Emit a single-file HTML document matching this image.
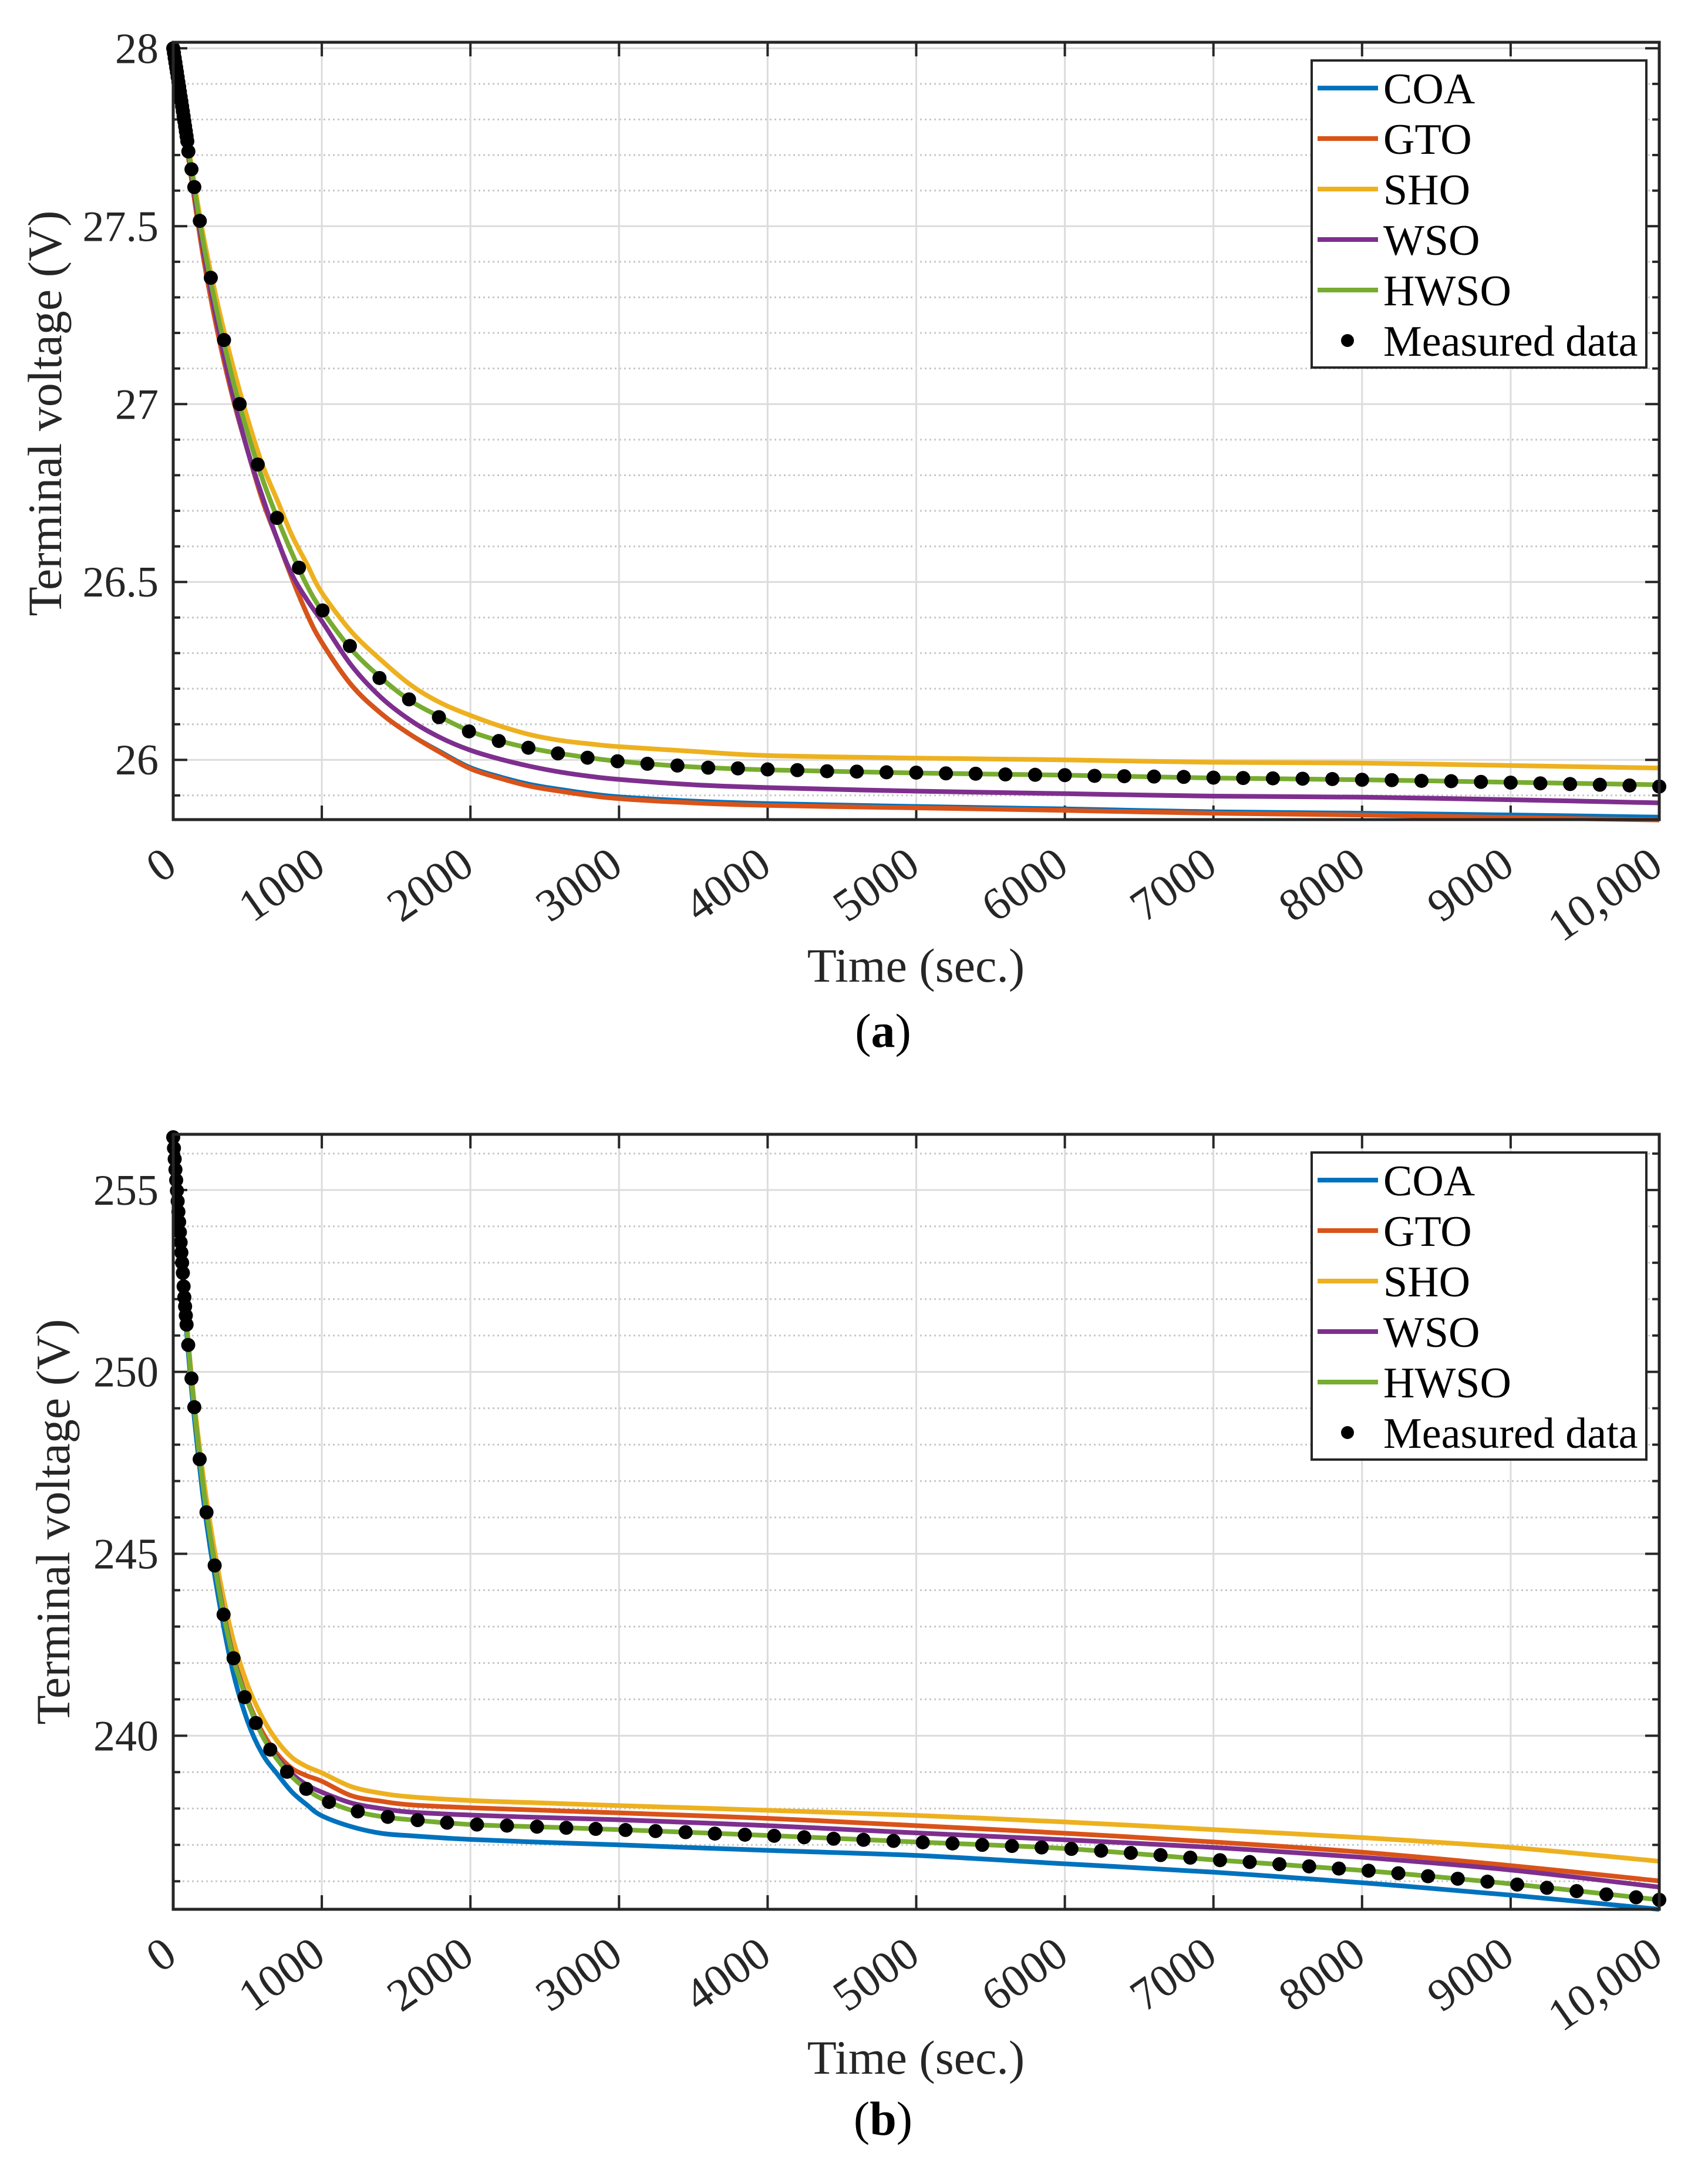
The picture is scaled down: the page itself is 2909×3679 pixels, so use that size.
<!DOCTYPE html>
<html><head><meta charset="utf-8">
<style>
html,body{margin:0;padding:0;background:#fff;}
svg{display:block;font-family:"Liberation Serif","Times New Roman",serif;}
</style></head>
<body>
<svg id="fig" width="2909" height="3679" viewBox="0 0 2909 3679" xmlns="http://www.w3.org/2000/svg">
<rect x="0" y="0" width="2909" height="3679" fill="#fff"/>
</svg>
<script>
// ---------- Chart (a) data ----------
const aTime = [0,100,200,300,400,500,600,700,800,900,1000,1200,1400,1600,1800,2000,2200,2400,2600,2800,3000,3500,4000,5000,6000,7000,8000,9000,10000];
const aCOA  = [28.0,27.70,27.42,27.2,27.02,26.87,26.73,26.62,26.51,26.41,26.33,26.21,26.13,26.07,26.022,25.978,25.952,25.931,25.917,25.905,25.896,25.884,25.877,25.869,25.862,25.854,25.85,25.845,25.839];
const aGTO  = [28.0,27.70,27.42,27.2,27.02,26.87,26.73,26.62,26.51,26.41,26.33,26.21,26.13,26.07,26.02,25.975,25.948,25.926,25.912,25.9,25.891,25.879,25.872,25.865,25.858,25.85,25.845,25.838,25.831];
const aSHO  = [28.0,27.73,27.48,27.28,27.11,26.96,26.83,26.73,26.63,26.55,26.47,26.36,26.28,26.21,26.16,26.125,26.095,26.071,26.055,26.045,26.037,26.024,26.012,26.005,26.0,25.993,25.991,25.984,25.977];
const aWSO  = [28.0,27.71,27.44,27.22,27.03,26.87,26.74,26.62,26.52,26.45,26.39,26.265,26.175,26.11,26.062,26.027,26.002,25.982,25.966,25.954,25.945,25.93,25.922,25.912,25.905,25.898,25.895,25.888,25.879];
const aHWSO = [28.0,27.72,27.46,27.25,27.07,26.92,26.79,26.68,26.58,26.49,26.42,26.31,26.23,26.165,26.12,26.08,26.053,26.033,26.018,26.006,25.996,25.98,25.972,25.963,25.957,25.949,25.944,25.937,25.93];
const aMeasT = [0,5,10,15,20,25,30,35,40,45,50,55,60,65,70,75,80,85,90,95,102,123,142,179,253,342,447,569,698,846,1005,1189,1388,1587,1788,1990,2191,2390,2589,2788,2990,3191,3393,3600,3800,4000,4200,4400,4600,4800,5000,5200,5400,5600,5800,6000,6200,6400,6600,6800,7000,7200,7400,7600,7800,8000,8200,8400,8600,8800,9000,9200,9400,9600,9800,10000];
const aMeasV = [28.0,27.987,27.973,27.96,27.946,27.933,27.919,27.905,27.892,27.878,27.864,27.851,27.837,27.823,27.809,27.795,27.781,27.767,27.753,27.739,27.71,27.66,27.61,27.515,27.355,27.18,27.0,26.83,26.68,26.54,26.42,26.32,26.23,26.17,26.12,26.08,26.053,26.034,26.018,26.006,25.996,25.989,25.984,25.978,25.976,25.973,25.971,25.968,25.967,25.965,25.964,25.962,25.961,25.959,25.958,25.957,25.955,25.954,25.953,25.952,25.95,25.949,25.948,25.947,25.946,25.944,25.943,25.941,25.94,25.938,25.936,25.934,25.932,25.93,25.928,25.925];
const aYTicks = [26,26.5,27,27.5,28];
const aYTickLabels = ["26","26.5","27","27.5","28"];

// ---------- Chart (b) data ----------
const bTime = [0,100,200,300,400,500,600,700,800,900,1000,1200,1400,1600,2000,2500,3000,4000,5000,6000,7000,8000,9000,10000];
const bCOA  = [256.45,250.6,246.6,243.9,241.8,240.4,239.5,238.95,238.45,238.1,237.8,237.5,237.32,237.25,237.15,237.07,237.0,236.85,236.71,236.48,236.25,235.96,235.62,235.23];
const bGTO  = [256.45,250.8,246.9,244.3,242.3,241.0,240.1,239.5,239.1,238.9,238.75,238.35,238.2,238.1,238.02,237.95,237.88,237.73,237.53,237.32,237.08,236.8,236.43,236.01];
const bSHO  = [256.45,250.9,247.2,244.6,242.7,241.4,240.5,239.85,239.4,239.15,238.98,238.6,238.42,238.32,238.22,238.15,238.08,237.95,237.81,237.63,237.42,237.2,236.93,236.55];
const bWSO  = [256.45,250.8,246.9,244.25,242.25,240.95,240.0,239.4,238.95,238.65,238.45,238.15,238.0,237.9,237.82,237.75,237.69,237.53,237.33,237.14,236.93,236.66,236.31,235.84];
const bHWSO = [256.45,250.8,246.9,244.2,242.2,240.95,240.0,239.35,238.87,238.52,238.27,237.95,237.78,237.69,237.56,237.49,237.42,237.26,237.08,236.9,236.59,236.3,235.93,235.49];
const bMeasT = [0,5,10,15,20,25,30,35,40,45,50,55,60,65,70,75,80,85,90,101,123,142,178,224,279,339,406,481,556,653,766,895,1048,1242,1444,1645,1843,2044,2246,2448,2645,2843,3044,3246,3448,3645,3847,4044,4246,4444,4645,4847,5044,5244,5444,5644,5844,6044,6244,6444,6644,6844,7044,7244,7444,7644,7844,8044,8244,8444,8644,8844,9044,9244,9444,9644,9844,10000];
const bMeasV = [256.45,256.15,255.85,255.56,255.27,254.98,254.69,254.4,254.12,253.84,253.56,253.28,253.0,252.72,252.35,252.05,251.8,251.55,251.3,250.74,249.82,249.03,247.6,246.14,244.68,243.33,242.13,241.06,240.35,239.62,239.01,238.54,238.18,237.92,237.77,237.68,237.61,237.56,237.53,237.5,237.47,237.44,237.41,237.38,237.35,237.31,237.28,237.25,237.21,237.17,237.14,237.11,237.07,237.04,237.0,236.97,236.93,236.89,236.84,236.78,236.72,236.65,236.58,236.53,236.47,236.41,236.35,236.29,236.22,236.14,236.07,235.99,235.91,235.82,235.73,235.64,235.56,235.49];
const bYTicks = [240,245,250,255];
const bYTickLabels = ["240","245","250","255"];

const xTicks = [0,1000,2000,3000,4000,5000,6000,7000,8000,9000,10000];
const xTickLabels = ["0","1000","2000","3000","4000","5000","6000","7000","8000","9000","10,000"];
const seriesNames = ["COA","GTO","SHO","WSO","HWSO"];
const seriesColors = ["#0072BD","#D95319","#EDB120","#7E2F8E","#77AC30"];

const NS = "http://www.w3.org/2000/svg";
const svg = document.getElementById('fig');
function mk(tag, attrs, parent){
  const e = document.createElementNS(NS, tag);
  for (const k in attrs) e.setAttribute(k, attrs[k]);
  (parent||svg).appendChild(e);
  return e;
}
function smoothPath(pts){
  let d = "M"+pts[0][0].toFixed(1)+","+pts[0][1].toFixed(1);
  for (let i=0;i<pts.length-1;i++){
    const p0=pts[Math.max(0,i-1)], p1=pts[i], p2=pts[i+1], p3=pts[Math.min(pts.length-1,i+2)];
    const c1x=p1[0]+(p2[0]-p0[0])/6, c1y=p1[1]+(p2[1]-p0[1])/6;
    const c2x=p2[0]-(p3[0]-p1[0])/6, c2y=p2[1]-(p3[1]-p1[1])/6;
    d+=" C"+c1x.toFixed(1)+","+c1y.toFixed(1)+" "+c2x.toFixed(1)+","+c2y.toFixed(1)+" "+p2[0].toFixed(1)+","+p2[1].toFixed(1);
  }
  return d;
}

function drawChart(cfg){
  const L=295, R=2826, T=cfg.top, B=cfg.bottom;
  const xS = t => L + (t-0)/(10000-0)*(R-L);
  const yS = v => B - (v-cfg.ymin)/(cfg.ymax-cfg.ymin)*(B-T);
  const g = mk('g', {});
  
  
  const minorG = mk('g', {}, g);
  
  
  for (let v=Math.ceil(cfg.ymin/cfg.minor)*cfg.minor; v<=cfg.ymax+1e-9; v+=cfg.minor){
    const vv = Math.round(v/cfg.minor)*cfg.minor;
    if (Math.abs(vv/cfg.major - Math.round(vv/cfg.major))<1e-6) continue;
    const y=yS(vv);
    mk('line',{x1:L,x2:R,y1:y,y2:y,stroke:"#c8c8c8","stroke-width":3,"stroke-dasharray":"3,5"},minorG);
    mk('line',{x1:L,x2:L+12,y1:y,y2:y,stroke:"#262626","stroke-width":4},minorG);
    mk('line',{x1:R-12,x2:R,y1:y,y2:y,stroke:"#262626","stroke-width":4},minorG);
  }
  const majorG = mk('g', {}, g);
  
  
  cfg.yTicks.forEach(v=>{
    const y=yS(v);
    mk('line',{x1:L,x2:R,y1:y,y2:y,stroke:"#dcdcdc","stroke-width":3},majorG);
    mk('line',{x1:L,x2:L+24,y1:y,y2:y,stroke:"#262626","stroke-width":4},majorG);
    mk('line',{x1:R-24,x2:R,y1:y,y2:y,stroke:"#262626","stroke-width":4},majorG);
  });
  xTicks.forEach(t=>{
    const x=xS(t);
    mk('line',{x1:x,x2:x,y1:T,y2:B,stroke:"#dcdcdc","stroke-width":3},majorG);
    mk('line',{x1:x,x2:x,y1:B-24,y2:B,stroke:"#262626","stroke-width":4},majorG);
    mk('line',{x1:x,x2:x,y1:T,y2:T+24,stroke:"#262626","stroke-width":4},majorG);
  });
  const clipId = cfg.id+'-clip';
  const defs = mk('defs',{},g);
  const cp = mk('clipPath',{id:clipId},defs);
  mk('rect',{x:L-20,y:T-20,width:R-L+40,height:B-T+40},cp);
  cfg.series.forEach((arr,i)=>{
    const pts = cfg.time.map((t,j)=>[xS(t), yS(arr[j])]);
    const p = mk('path',{d:smoothPath(pts),fill:"none",stroke:seriesColors[i],"stroke-width":8,"stroke-linejoin":"round","clip-path":"url(#"+clipId+")"},g);
    
    
  });
  const dg = mk('g',{fill:"#000"},g);
  
  
  cfg.measT.forEach((t,j)=>{
    const c = mk('circle',{cx:xS(t),cy:yS(cfg.measV[j]),r:12},dg);
    
    
  });
  const box = mk('rect',{x:L,y:T,width:R-L,height:B-T,fill:"none",stroke:"#262626","stroke-width":5},g);
  
  
  cfg.yTicks.forEach((v,i)=>{
    const tx = mk('text',{x:270,y:yS(v)+25,"text-anchor":"end","font-size":74,fill:"#262626"},g);
    tx.textContent = cfg.yTickLabels[i];
    
    
  });
  xTicks.forEach((t,i)=>{
    const x=xS(t)+10, y=B+87;
    const tx = mk('text',{x:x,y:y,"text-anchor":"end","font-size":78,fill:"#262626",transform:"rotate(-35 "+x+" "+y+")"},g);
    tx.textContent = xTickLabels[i];
    
    
  });
  const xt = mk('text',{x:1560,y:cfg.xTitleY,"text-anchor":"middle","font-size":82,fill:"#262626"},g);
  xt.textContent = "Time (sec.)";
  
  
  const yt = mk('text',{x:cfg.yTitleX,y:cfg.yTitleCY,"text-anchor":"middle","font-size":82,fill:"#262626",transform:"rotate(-90 "+cfg.yTitleX+" "+cfg.yTitleCY+")"},g);
  yt.textContent = "Terminal voltage (V)";
  
  
  const cap = mk('text',{x:1504,y:cfg.capY,"text-anchor":"middle","font-size":82,fill:"#000"},g);
  cap.innerHTML = '(<tspan font-weight="bold">'+cfg.id+'</tspan>)';
  
  
  const lg = mk('g',{},g);
  
  
  const lt = T + 31;
  mk('rect',{x:2234,y:lt,width:570,height:523,fill:"#fff",stroke:"#262626","stroke-width":4},lg);
  const labels = seriesNames.concat(["Measured data"]);
  labels.forEach((name,i)=>{
    const ry = lt + 47 + i*86;
    const e = mk('g',{},lg);
    
    
    if (i<5) mk('line',{x1:2244,x2:2347,y1:ry,y2:ry,stroke:seriesColors[i],"stroke-width":8},e);
    else mk('circle',{cx:2295,cy:ry,r:11,fill:"#000"},e);
    const tx = mk('text',{x:2356,y:ry+26,"font-size":74,fill:"#000"},e);
    tx.textContent = name;
  });
}

drawChart({id:"a", top:72, bottom:1396, ymin:25.832, ymax:28.017, minor:0.1, major:0.5,
  yTicks:aYTicks, yTickLabels:aYTickLabels, time:aTime, series:[aCOA,aGTO,aSHO,aWSO,aHWSO],
  measT:aMeasT, measV:aMeasV, xTitleY:1672, yTitleX:104, yTitleCY:704, capY:1783});
drawChart({id:"b", top:1932, bottom:3252, ymin:235.23, ymax:256.53, minor:1, major:5,
  yTicks:bYTicks, yTickLabels:bYTickLabels, time:bTime, series:[bCOA,bGTO,bSHO,bWSO,bHWSO],
  measT:bMeasT, measV:bMeasV, xTitleY:3532, yTitleX:118, yTitleCY:2592, capY:3636});
</script>
</body></html>
